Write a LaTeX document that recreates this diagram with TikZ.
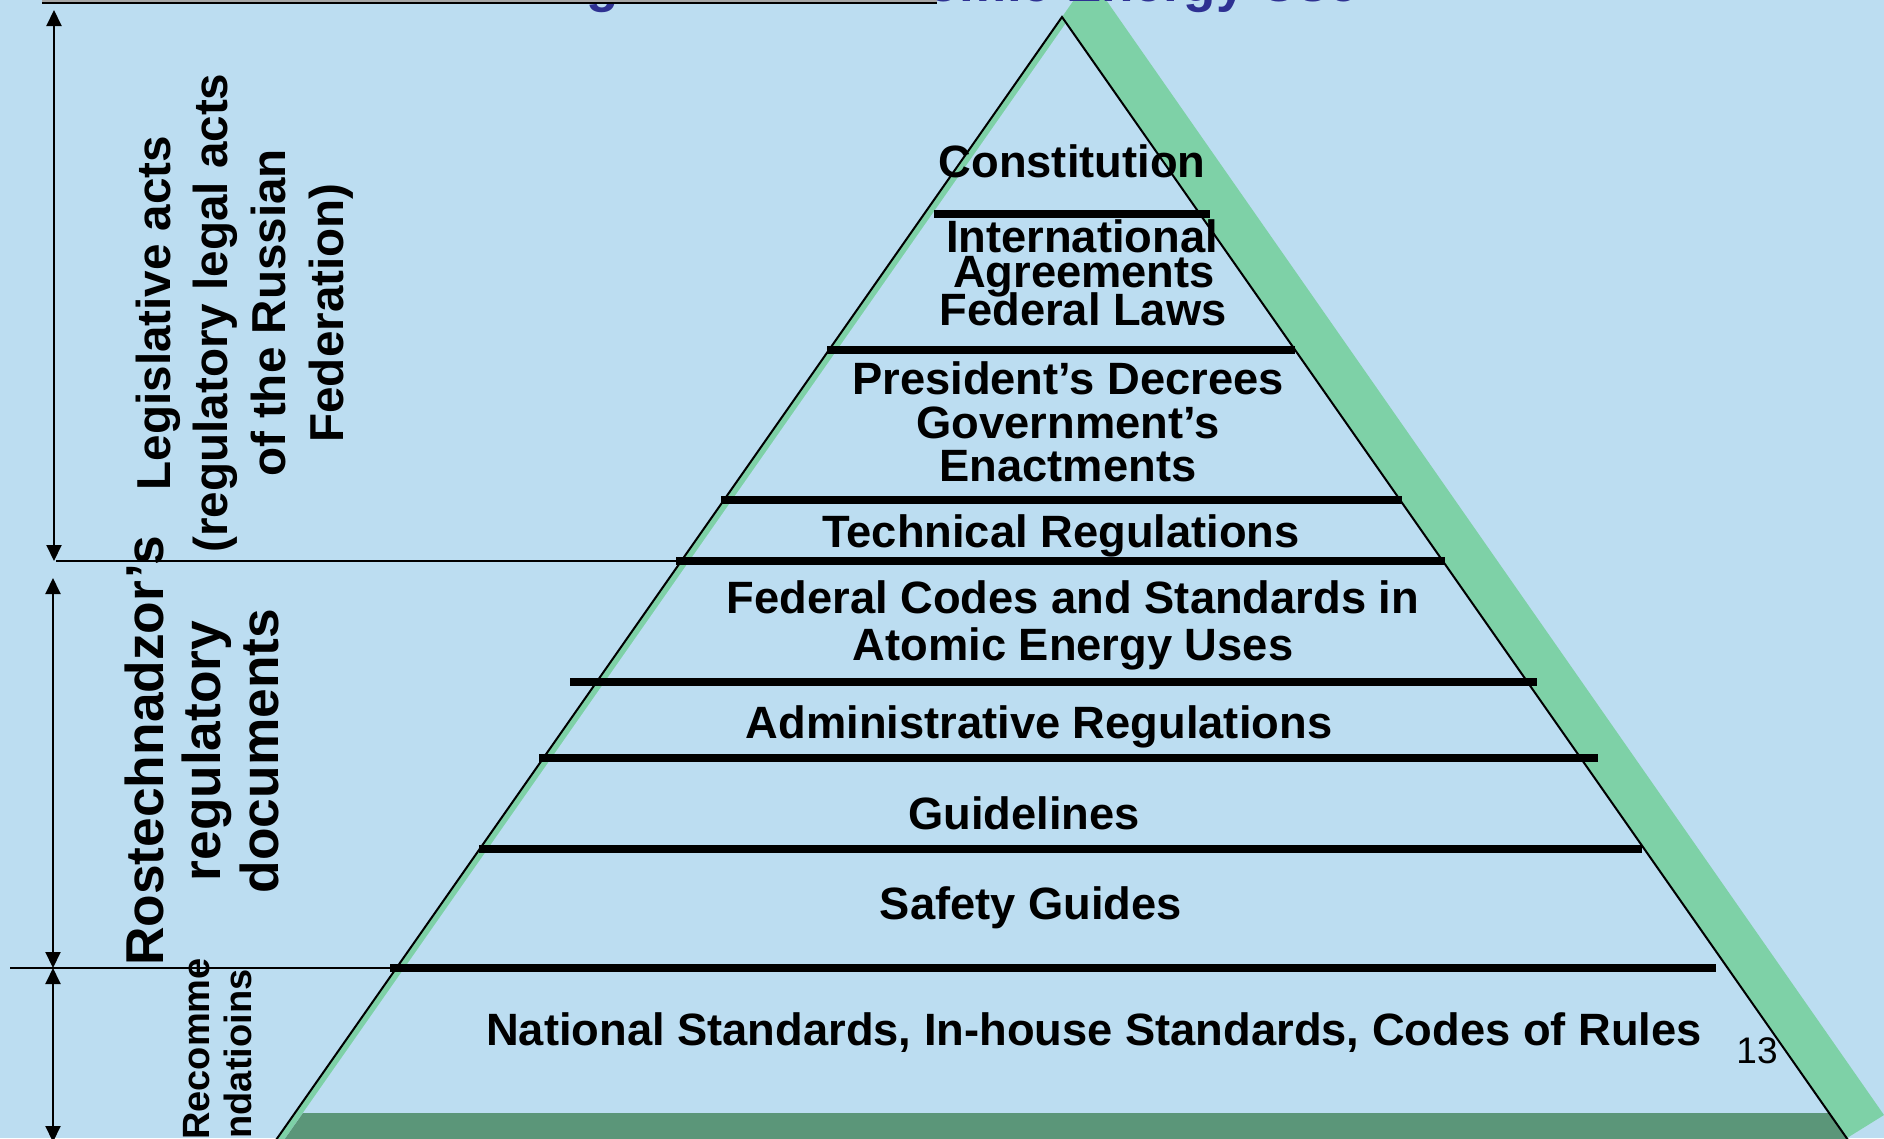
\documentclass[tikz,border=0pt]{standalone}
\usepackage{fontspec}
\setmainfont{Liberation Sans}
\usetikzlibrary{arrows.meta}
\definecolor{bgblue}{RGB}{188,221,241}
\definecolor{facegreen}{RGB}{126,209,167}
\definecolor{basegreen}{RGB}{91,150,121}
\definecolor{titleblue}{RGB}{46,49,146}
\tikzset{
  ptxt/.style={font=\fontsize{45.3}{45.3}\selectfont\bfseries, inner sep=0pt, anchor=base},
  levelline/.style={line width=7.5pt},
  thinline/.style={line width=1.5pt},
  dimarrow/.style={line width=2pt, {Triangle[length=16pt,width=15pt]}-{Triangle[length=16pt,width=15pt]}},
  sidetxt/.style={rotate=90, inner sep=0pt, anchor=base},
  legfont/.style={font=\fontsize{47.6}{47.6}\selectfont\bfseries},
  rosfont/.style={font=\fontsize{53.3}{53.3}\selectfont\bfseries},
  recfont/.style={font=\fontsize{38}{38}\selectfont\bfseries},
}
\begin{document}
\begin{tikzpicture}[x=1pt,y=-1pt]
\useasboundingbox (0,0) rectangle (1884,1138);
\clip (0,0) rectangle (1884,1138);
\fill[bgblue] (0,0) rectangle (1884,1138);
% pyramid faces
\fill[facegreen] (1090,-23) -- (1884,1115) -- (1847,1138) -- (1833,1160) -- (262,1160) -- cycle;
\fill[bgblue] (1066,23) -- (1862,1160) -- (270,1160) -- cycle;
\fill[basegreen] (303,1113) -- (1829,1113) -- (1862,1160) -- (270,1160) -- cycle;
\coordinate (apex) at (1062,17);
\coordinate (baseL) at (262,1160);
\coordinate (baseR) at (1862,1160);
\draw[line width=2pt] (baseL) -- (apex) -- (baseR);
% title (cut off at the top)
\node[font=\fontsize{53}{53}\selectfont\bfseries, text=titleblue, inner sep=0pt, anchor=base] (title) at (938,1) {Regulation of Atomic Energy Use};
% top rule
\coordinate (topL) at (42,3);
\coordinate (topR) at (937,3);
\coordinate (topgL) at (42,0.8);
\coordinate (topgR) at (937,0.8);
\draw[thinline, gray!70] (topgL) -- (topgR);
\draw[thinline] (topL) -- (topR);
% level lines
\coordinate (l1a) at (934,214);  \coordinate (l1b) at (1210,214);
\coordinate (l2a) at (827,350);  \coordinate (l2b) at (1295,350);
\coordinate (l3a) at (721,500);  \coordinate (l3b) at (1402,500);
\coordinate (l4a) at (676,561);  \coordinate (l4b) at (1445,561);
\coordinate (l5a) at (570,682);  \coordinate (l5b) at (1537,682);
\coordinate (l6a) at (539,758);  \coordinate (l6b) at (1598,758);
\coordinate (l7a) at (479,849);  \coordinate (l7b) at (1642,849);
\coordinate (l8a) at (390,968);  \coordinate (l8b) at (1716,968);
\foreach \i in {1,...,8} {\draw[levelline] (l\i a) -- (l\i b);}
% separators
\coordinate (s1) at (56,561);
\coordinate (s2) at (10,968);
\draw[thinline] (s1) -- (l4a);
\draw[thinline] (s2) -- (l8a);
% dimension arrows
\coordinate (a1t) at (54,10);  \coordinate (a1b) at (54,561);
\coordinate (a2t) at (53,578); \coordinate (a2b) at (53,968);
\coordinate (a3t) at (53,968); \coordinate (a3b) at (53,1142);
\draw[dimarrow] (a1t) -- (a1b);
\draw[dimarrow] (a2t) -- (a2b);
\draw[dimarrow] (a3t) -- (a3b);
% pyramid texts
\node[ptxt] (t1) at (1072,177) {Constitution};
\node[ptxt] (t2a) at (1082,252) {International};
\node[ptxt] (t2b) at (1084,287) {Agreements};
\node[ptxt] (t2c) at (1083,325) {Federal Laws};
\node[ptxt] (t3a) at (1068,394) {President’s Decrees};
\node[ptxt] (t3b) at (1068,438) {Government’s};
\node[ptxt] (t3c) at (1068,481) {Enactments};
\node[ptxt] (t4) at (1061,547) {Technical Regulations};
\node[ptxt] (t5a) at (1073,613) {Federal Codes and Standards in};
\node[ptxt] (t5b) at (1073,660) {Atomic Energy Uses};
\node[ptxt] (t6) at (1039,738) {Administrative Regulations};
\node[ptxt] (t7) at (1024,829) {Guidelines};
\node[ptxt] (t8) at (1031,919) {Safety Guides};
\node[ptxt] (t9) at (1094,1045) {National Standards, In-house Standards, Codes of Rules};
\node[font=\fontsize{37}{37}\selectfont, inner sep=0pt, anchor=base] (pg) at (1757,1063) {13};
% side texts
\node[sidetxt, legfont] (leg1) at (170,313) {Legislative acts};
\node[sidetxt, legfont] (leg2) at (227,313) {(regulatory legal acts};
\node[sidetxt, legfont] (leg3) at (285,313) {of the Russian};
\node[sidetxt, legfont] (leg4) at (343,313) {Federation)};
\node[sidetxt, rosfont] (ros1) at (163,751) {Rostechnadzor’s};
\node[sidetxt, rosfont] (ros2) at (220,751) {regulatory};
\node[sidetxt, rosfont] (ros3) at (278,751) {documents};
\node[sidetxt, recfont] (rec1) at (209,1049) {Recomme};
\node[sidetxt, recfont] (rec2) at (251,1054) {ndatioins};
\end{tikzpicture}
\end{document}
